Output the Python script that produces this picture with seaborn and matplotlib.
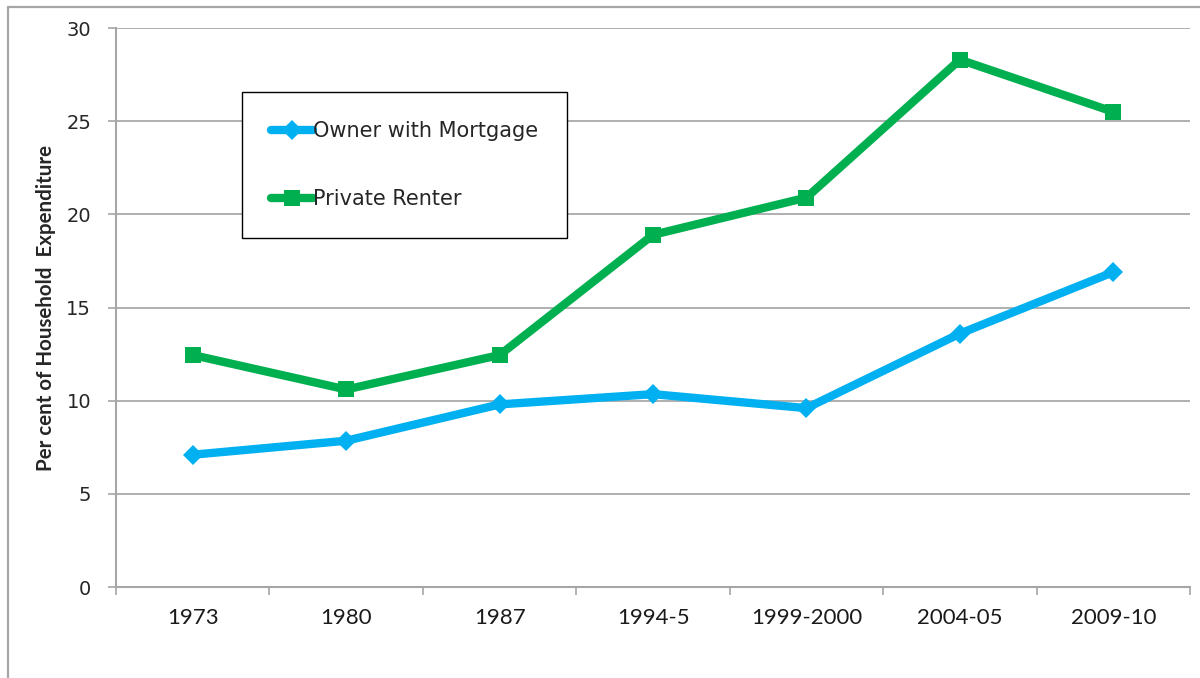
import pandas as pd
import matplotlib.pyplot as plt
from matplotlib.lines import Line2D
from matplotlib.ticker import FixedLocator
import seaborn as sns

# data
periods = ['1973', '1980', '1987', '1994-5', '1999-2000', '2004-05', '2009-10']
owner_mortgage = [7.1, 7.85, 9.8, 10.35, 9.6, 13.6, 16.9]
private_renter = [12.45, 10.6, 12.45, 18.9, 20.9, 28.3, 25.5]

df = pd.DataFrame({
    'period': periods * 2,
    'value': owner_mortgage + private_renter,
    'tenure': ['Owner with Mortgage'] * len(periods) + ['Private Renter'] * len(periods),
})

sns.set_style('white')
plt.rcParams['font.family'] = ['DejaVu Sans']

fig = plt.figure(figsize=(12, 6.78), dpi=100)
ax = fig.add_axes([0.0967, 0.1342, 0.895, 0.8245])

styles = {
    'Owner with Mortgage': dict(color='#00B0F0', marker='D', markersize=10.5),
    'Private Renter': dict(color='#00B050', marker='s', markersize=12),
}
for name, st in styles.items():
    sub = df[df['tenure'] == name]
    sns.lineplot(data=sub, x='period', y='value', ax=ax, sort=False,
                 color=st['color'], marker=st['marker'], markersize=st['markersize'],
                 markeredgewidth=0, linewidth=6, label=name)

ax.set_xlim(-0.5, len(periods) - 0.5)
ax.set_ylim(0, 30)
ax.set_yticks(range(0, 31, 5))
ax.yaxis.grid(True, color='#9a9a9a', linewidth=1.1)
ax.xaxis.grid(False)

for s in ['top', 'right']:
    ax.spines[s].set_visible(False)
for s in ['left', 'bottom']:
    ax.spines[s].set_color('#a6a6a6')
    ax.spines[s].set_linewidth(1.5)

ax.xaxis.set_minor_locator(FixedLocator([i - 0.5 for i in range(len(periods) + 1)]))
ax.tick_params(axis='x', which='major', length=0, pad=15, labelsize=16)
ax.tick_params(axis='x', which='minor', length=6, width=1.2, color='#a6a6a6', direction='out', bottom=True)
ax.tick_params(axis='y', length=6, width=1.2, color='#a6a6a6', direction='out', left=True, pad=12, labelsize=14)
for lab in ax.get_xticklabels():
    lab.set_family(['Lato', 'DejaVu Sans'])
    lab.set_color('#1a1a1a')

ax.set_xlabel('')
ax.set_ylabel('Per cent of Household  Expenditure', fontsize=14.8, fontweight='bold',
              family=['Lato', 'DejaVu Sans'], labelpad=7)

handles, labels = ax.get_legend_handles_labels()
leg = ax.legend(handles, labels, loc='upper left', bbox_to_anchor=(0.117, 0.8855),
                fontsize=15, frameon=True, fancybox=False, handlelength=2.0,
                handletextpad=0.0, labelspacing=2.3, borderpad=1.4, borderaxespad=0)
leg.get_frame().set_edgecolor('black')
leg.get_frame().set_linewidth(1.0)
leg.get_frame().set_alpha(1)

# outer chart frame (left and top edges visible)
fig.add_artist(Line2D([0.0067, 0.0067], [0, 0.9897], transform=fig.transFigure, color='#a6a6a6', linewidth=1.6))
fig.add_artist(Line2D([0.0067, 1.0], [0.9897, 0.9897], transform=fig.transFigure, color='#a6a6a6', linewidth=1.6))

fig.savefig('out.png', dpi=100)
